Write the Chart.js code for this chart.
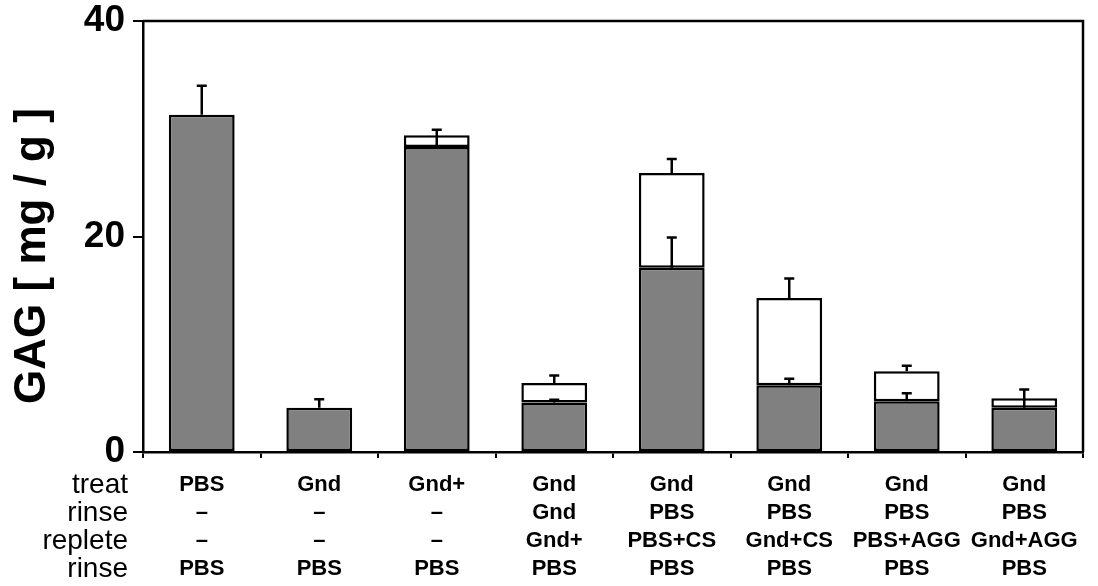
<!DOCTYPE html>
<html>
<head>
<meta charset="utf-8">
<script src="https://cdn.jsdelivr.net/npm/chart.js@4.4.0/dist/chart.umd.min.js"></script>
<style>
  html, body { margin: 0; padding: 0; background: #fff; }
  #wrap { width: 1098px; height: 586px; }
</style>
</head>
<body>
<div id="wrap"><canvas id="gagChart"></canvas></div>
<script>
// ---- data ----
const treat   = ["PBS", "Gnd", "Gnd+", "Gnd", "Gnd", "Gnd", "Gnd", "Gnd"];
const rinse1  = ["–", "–", "–", "Gnd", "PBS", "PBS", "PBS", "PBS"];
const replete = ["–", "–", "–", "Gnd+", "PBS+CS", "Gnd+CS", "PBS+AGG", "Gnd+AGG"];
const rinse2  = ["PBS", "PBS", "PBS", "PBS", "PBS", "PBS", "PBS", "PBS"];
const rowNames = ["treat", "rinse", "replete", "rinse"];

const greyVals  = [31.3, 4.1, 28.3, 4.6, 17.1, 6.2, 4.7, 4.1];   // tissue GAG
const totalVals = [31.3, 4.1, 29.4, 6.4, 25.9, 14.3, 7.5, 5.0];  // top of white part
const greyErr   = [2.7, 0.8, 1.6, 0.25, 2.8, 0.6, 0.75, 1.7];
const totalErr  = [null, null, null, 0.7, 1.3, 1.8, 0.5, null];
const yTicks    = [0, 20, 40];

const labels = treat.map((t, i) => [t, rinse1[i], replete[i], rinse2[i]]);
const whiteVals = totalVals.map((t, i) => (t > greyVals[i] ? +(t - greyVals[i]).toFixed(2) : null));

const FONT = "Arial, 'Liberation Sans', sans-serif";
const X_TICK_LEN = 6, X_PAD = 13, LINE_H = 28;

// error bars + frame + row names + y title
const extras = {
  id: "extras",
  afterDatasetsDraw(chart) {
    const ctx = chart.ctx;
    const y = chart.scales.y;
    const meta = chart.getDatasetMeta(0);
    ctx.save();
    ctx.strokeStyle = "#000";
    ctx.lineWidth = 2.5;
    const drawErr = (x, base, err) => {
      const y0 = y.getPixelForValue(base);
      const y1 = y.getPixelForValue(base + err);
      ctx.beginPath();
      ctx.moveTo(x, y0); ctx.lineTo(x, y1);
      ctx.moveTo(x - 5, y1); ctx.lineTo(x + 5, y1);
      ctx.stroke();
    };
    meta.data.forEach((bar, i) => {
      if (greyErr[i] != null) drawErr(bar.x, greyVals[i], greyErr[i]);
      if (totalErr[i] != null) drawErr(bar.x, totalVals[i], totalErr[i]);
    });
    ctx.restore();
  },
  afterDraw(chart) {
    const ctx = chart.ctx;
    const a = chart.chartArea;
    const xs = chart.scales.x;
    ctx.save();
    // top and right frame
    ctx.strokeStyle = "#000";
    ctx.lineWidth = 2.5;
    ctx.beginPath();
    ctx.moveTo(a.left, a.top);
    ctx.lineTo(a.right, a.top);
    ctx.lineTo(a.right, a.bottom);
    ctx.stroke();
    // row names left of the category labels
    ctx.fillStyle = "#000";
    ctx.font = "28px " + FONT;
    ctx.textAlign = "right";
    ctx.textBaseline = "middle";
    rowNames.forEach((n, i) => {
      ctx.fillText(n, 128, xs.top + X_TICK_LEN + X_PAD + LINE_H / 2 + i * LINE_H);
    });
    // y axis title
    ctx.translate(33, 256);
    ctx.rotate(-Math.PI / 2);
    ctx.font = "bold 44px " + FONT;
    ctx.textAlign = "center";
    ctx.fillText("GAG [ mg / g ]", 0, 0);
    ctx.restore();
  }
};

new Chart(document.getElementById("gagChart"), {
  type: "bar",
  data: {
    labels: labels,
    datasets: [
      {
        label: "tissue",
        data: greyVals,
        backgroundColor: "#808080",
        borderColor: "#000",
        borderWidth: 2.5,
        borderSkipped: false,
      },
      {
        label: "added",
        data: whiteVals,
        backgroundColor: "#fff",
        borderColor: "#000",
        borderWidth: 2.5,
        borderSkipped: false,
      },
    ],
  },
  options: {
    responsive: true,
    maintainAspectRatio: false,
    animation: false,
    layout: { padding: { top: 21, right: 15, left: 0, bottom: 0 } },
    datasets: { bar: { categoryPercentage: 1, barPercentage: 0.56 } },
    plugins: { legend: { display: false }, tooltip: { enabled: false } },
    scales: {
      x: {
        stacked: true,
        offset: true,
        grid: {
          offset: true,
          drawOnChartArea: false,
          drawTicks: true,
          tickLength: X_TICK_LEN,
          color: "#000",
          lineWidth: 2,
        },
        border: { display: true, color: "#000", width: 2.5 },
        ticks: {
          color: "#000",
          padding: X_PAD,
          maxRotation: 0,
          autoSkip: false,
          font: { family: FONT, size: 22, weight: "bold", lineHeight: LINE_H / 22 },
        },
        afterFit(scale) { scale.height = 134; scale.paddingLeft = 0; scale.paddingRight = 0; },
      },
      y: {
        stacked: true,
        min: 0,
        max: 40,
        afterBuildTicks(scale) { scale.ticks = yTicks.map(v => ({ value: v })); },
        grid: {
          drawOnChartArea: false,
          drawTicks: true,
          tickLength: 10,
          color: "#000",
          lineWidth: 2,
        },
        border: { display: true, color: "#000", width: 2.5 },
        ticks: {
          color: "#000",
          padding: 8,
          font: { family: FONT, size: 37, weight: "bold" },
        },
        afterFit(scale) { scale.width = 143; scale.paddingTop = 0; scale.paddingBottom = 0; },
      },
    },
  },
  plugins: [extras],
});
</script>
</body>
</html>
